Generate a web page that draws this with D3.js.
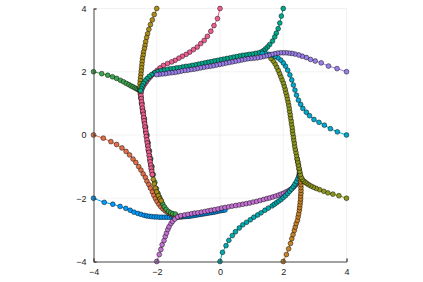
<!DOCTYPE html>
<html>
<head>
<meta charset="utf-8">
<script src="https://d3js.org/d3.v7.min.js"></script>
<style>
  body { margin: 0; background: #fff; }
  svg { display: block; }
</style>
</head>
<body>
<svg></svg>
<script>
const svgWidth = 423;
const svgHeight = 282;

// trajectories, one array of [x, y] per series
const blue = [[-4.00,-2.00],[-3.66,-2.13],[-3.39,-2.19],[-3.16,-2.26],[-2.98,-2.32],[-2.84,-2.38],[-2.72,-2.44],[-2.60,-2.48],[-2.50,-2.51],[-2.40,-2.54],[-2.32,-2.56],[-2.24,-2.57],[-2.16,-2.58],[-2.08,-2.59],[-2.00,-2.59],[-1.92,-2.60],[-1.84,-2.60],[-1.76,-2.60],[-1.68,-2.60],[-1.60,-2.60],[-1.52,-2.60],[-1.46,-2.60],[-1.40,-2.60],[-1.34,-2.60],[-1.28,-2.59],[-1.22,-2.59],[-1.16,-2.58],[-1.10,-2.58],[-1.04,-2.57],[-0.98,-2.57],[-0.92,-2.56],[-0.86,-2.55],[-0.80,-2.54],[-0.74,-2.53],[-0.68,-2.52],[-0.62,-2.51],[-0.56,-2.50],[-0.50,-2.49],[-0.44,-2.48],[-0.38,-2.47],[-0.32,-2.46],[-0.26,-2.45],[-0.20,-2.44],[-0.14,-2.43],[-0.08,-2.41],[-0.02,-2.40],[0.04,-2.39],[0.10,-2.38],[0.16,-2.37]];
const orange = [[-4.00,0.00],[-3.69,-0.10],[-3.45,-0.21],[-3.27,-0.30],[-3.10,-0.41],[-2.97,-0.52],[-2.86,-0.63],[-2.75,-0.76],[-2.66,-0.87],[-2.57,-1.00],[-2.50,-1.11],[-2.43,-1.23],[-2.36,-1.34],[-2.31,-1.46],[-2.25,-1.57],[-2.20,-1.68],[-2.14,-1.80],[-2.09,-1.91],[-2.04,-2.01],[-1.99,-2.10],[-1.93,-2.19],[-1.87,-2.27],[-1.80,-2.34],[-1.73,-2.40],[-1.65,-2.45],[-1.57,-2.49],[-1.50,-2.52],[-1.42,-2.55],[-1.34,-2.57],[-1.25,-2.58]];
const green = [[-4.00,2.00],[-3.74,1.94],[-3.55,1.89],[-3.40,1.84],[-3.27,1.79],[-3.15,1.73],[-3.05,1.68],[-2.96,1.63],[-2.88,1.59],[-2.81,1.55],[-2.75,1.52],[-2.69,1.49],[-2.64,1.46],[-2.59,1.44],[-2.55,1.42],[-2.52,1.36],[-2.50,1.20],[-2.47,1.00],[-2.43,0.75],[-2.39,0.50],[-2.35,0.25],[-2.31,0.00],[-2.27,-0.25],[-2.23,-0.50],[-2.19,-0.75],[-2.15,-1.00],[-2.11,-1.25],[-2.06,-1.50],[-2.01,-1.70],[-1.96,-1.85],[-1.91,-1.97],[-1.86,-2.08],[-1.81,-2.18],[-1.76,-2.27],[-1.70,-2.35],[-1.63,-2.42],[-1.56,-2.46],[-1.49,-2.49],[-1.41,-2.50]];
const purple = [[-2.00,-4.00],[-1.92,-3.78],[-1.87,-3.62],[-1.83,-3.47],[-1.77,-3.34],[-1.73,-3.21],[-1.69,-3.10],[-1.65,-2.99],[-1.61,-2.90],[-1.55,-2.80],[-1.50,-2.73],[-1.43,-2.66],[-1.34,-2.59],[-1.24,-2.55],[-1.12,-2.53],[-1.01,-2.51],[-0.90,-2.49],[-0.80,-2.47],[-0.70,-2.46],[-0.59,-2.44],[-0.48,-2.42],[-0.38,-2.40],[-0.28,-2.38],[-0.17,-2.36],[-0.06,-2.34],[0.05,-2.31],[0.16,-2.29],[0.27,-2.27],[0.38,-2.25],[0.50,-2.23],[0.61,-2.21],[0.72,-2.19],[0.83,-2.17],[0.94,-2.15],[1.05,-2.12],[1.16,-2.10],[1.27,-2.07],[1.38,-2.04],[1.48,-2.01],[1.57,-1.99],[1.67,-1.96],[1.76,-1.93],[1.85,-1.90],[1.93,-1.87],[2.01,-1.84],[2.09,-1.80],[2.16,-1.77],[2.22,-1.73],[2.28,-1.69],[2.33,-1.64],[2.38,-1.59],[2.42,-1.54],[2.45,-1.50]];
const gold = [[-2.00,4.00],[-2.08,3.81],[-2.14,3.64],[-2.20,3.49],[-2.25,3.34],[-2.29,3.20],[-2.32,3.08],[-2.35,2.95],[-2.37,2.83],[-2.39,2.73],[-2.42,2.62],[-2.43,2.52],[-2.45,2.42],[-2.46,2.32],[-2.47,2.22],[-2.48,2.12],[-2.49,2.02],[-2.50,1.92],[-2.51,1.82],[-2.52,1.72],[-2.53,1.62],[-2.53,1.52],[-2.53,1.42],[-2.52,1.30],[-2.50,1.15],[-2.48,1.00],[-2.46,0.85],[-2.44,0.70],[-2.41,0.55],[-2.39,0.40],[-2.37,0.25],[-2.35,0.10],[-2.32,-0.05],[-2.30,-0.20],[-2.28,-0.35],[-2.26,-0.50],[-2.23,-0.65],[-2.21,-0.80],[-2.19,-0.95],[-2.16,-1.10],[-2.14,-1.25],[-2.11,-1.40],[-2.08,-1.55],[-2.04,-1.68],[-2.00,-1.80],[-1.95,-1.92],[-1.90,-2.02],[-1.86,-2.08]];
const teal = [[0.00,-4.00],[0.08,-3.71],[0.19,-3.50],[0.28,-3.33],[0.39,-3.18],[0.49,-3.06],[0.61,-2.94],[0.72,-2.84],[0.84,-2.76],[0.96,-2.68],[1.07,-2.60],[1.19,-2.53],[1.30,-2.46],[1.42,-2.38],[1.53,-2.31],[1.65,-2.24],[1.72,-2.19],[1.79,-2.14],[1.86,-2.09],[1.93,-2.04],[2.00,-1.98],[2.07,-1.92],[2.14,-1.85],[2.20,-1.78],[2.26,-1.71],[2.32,-1.63],[2.37,-1.55],[2.42,-1.47],[2.46,-1.38],[2.49,-1.29],[2.51,-1.20]];
const pink = [[0.00,4.00],[-0.08,3.68],[-0.19,3.46],[-0.29,3.28],[-0.40,3.12],[-0.50,2.99],[-0.61,2.89],[-0.72,2.78],[-0.84,2.70],[-0.96,2.62],[-1.07,2.55],[-1.19,2.49],[-1.30,2.43],[-1.42,2.36],[-1.53,2.31],[-1.66,2.26],[-1.79,2.20],[-1.90,2.12],[-1.99,2.04],[-2.07,1.97],[-2.14,1.90],[-2.21,1.83],[-2.27,1.76],[-2.33,1.68],[-2.38,1.61],[-2.43,1.53],[-2.47,1.45],[-2.49,1.35],[-2.50,1.25],[-2.49,1.15],[-2.48,1.05],[-2.47,0.95],[-2.45,0.85],[-2.44,0.75],[-2.42,0.65],[-2.41,0.55],[-2.40,0.45],[-2.38,0.35],[-2.37,0.25],[-2.35,0.15],[-2.34,0.05],[-2.33,-0.05],[-2.31,-0.15],[-2.30,-0.25],[-2.28,-0.35],[-2.27,-0.45],[-2.25,-0.55],[-2.24,-0.65],[-2.22,-0.75],[-2.21,-0.85],[-2.19,-0.95],[-2.18,-1.05],[-2.16,-1.15],[-2.14,-1.25]];
const brown = [[2.00,-4.00],[2.10,-3.78],[2.17,-3.60],[2.23,-3.43],[2.27,-3.28],[2.31,-3.15],[2.35,-3.02],[2.38,-2.91],[2.41,-2.80],[2.45,-2.70],[2.47,-2.59],[2.49,-2.49],[2.51,-2.38],[2.52,-2.29],[2.53,-2.20],[2.54,-2.11],[2.55,-2.02],[2.55,-1.93],[2.56,-1.84],[2.56,-1.75],[2.56,-1.66],[2.56,-1.57],[2.55,-1.48],[2.54,-1.39],[2.53,-1.30],[2.52,-1.20],[2.50,-1.08],[2.48,-0.96],[2.46,-0.86],[2.44,-0.76]];
const seaGreen = [[2.00,4.00],[1.94,3.76],[1.89,3.54],[1.84,3.36],[1.78,3.22],[1.73,3.10],[1.66,2.97],[1.57,2.86],[1.50,2.78],[1.44,2.72],[1.38,2.67],[1.31,2.63],[1.22,2.60],[1.12,2.58],[1.02,2.56],[0.92,2.55],[0.82,2.53],[0.72,2.52],[0.62,2.50],[0.52,2.48],[0.42,2.46],[0.32,2.44],[0.22,2.42],[0.12,2.40],[0.02,2.38],[-0.08,2.36],[-0.18,2.34],[-0.28,2.32],[-0.38,2.30],[-0.48,2.28],[-0.58,2.26],[-0.68,2.24],[-0.78,2.22],[-0.88,2.20],[-0.98,2.18],[-1.08,2.17],[-1.18,2.15],[-1.28,2.13],[-1.38,2.12],[-1.48,2.10],[-1.58,2.09],[-1.68,2.07],[-1.78,2.05],[-1.88,2.03],[-1.98,2.00],[-2.07,1.96],[-2.16,1.91],[-2.24,1.85],[-2.31,1.78],[-2.37,1.71],[-2.42,1.63],[-2.46,1.55],[-2.49,1.47],[-2.51,1.40]];
const olive = [[4.00,-2.00],[3.76,-1.92],[3.57,-1.87],[3.41,-1.83],[3.28,-1.78],[3.15,-1.73],[3.04,-1.69],[2.95,-1.65],[2.87,-1.61],[2.80,-1.57],[2.74,-1.53],[2.69,-1.49],[2.64,-1.45],[2.60,-1.40],[2.57,-1.34],[2.54,-1.25],[2.52,-1.15],[2.50,-1.05],[2.48,-0.95],[2.46,-0.85],[2.44,-0.75],[2.42,-0.65],[2.40,-0.55],[2.38,-0.45],[2.36,-0.35],[2.35,-0.25],[2.33,-0.15],[2.32,-0.05],[2.30,0.05],[2.29,0.15],[2.28,0.25],[2.26,0.35],[2.25,0.45],[2.23,0.55],[2.22,0.65],[2.20,0.75],[2.19,0.85],[2.17,0.95],[2.15,1.05],[2.13,1.15],[2.11,1.25],[2.08,1.35],[2.06,1.45],[2.03,1.55],[2.00,1.65],[1.96,1.75],[1.92,1.85],[1.88,1.95],[1.84,2.05],[1.79,2.15],[1.74,2.25],[1.68,2.34],[1.61,2.42]];
const cyan = [[4.00,0.00],[3.71,0.10],[3.49,0.20],[3.30,0.31],[3.13,0.40],[2.97,0.49],[2.83,0.61],[2.73,0.72],[2.62,0.84],[2.55,0.97],[2.48,1.10],[2.42,1.26],[2.37,1.42],[2.32,1.58],[2.27,1.74],[2.21,1.90],[2.14,2.05],[2.07,2.18],[2.00,2.28],[1.92,2.37],[1.83,2.44],[1.74,2.49],[1.64,2.53],[1.54,2.55],[1.44,2.57],[1.34,2.58]];
const lavender = [[4.00,2.00],[3.70,2.10],[3.43,2.18],[3.20,2.28],[3.01,2.34],[2.86,2.39],[2.73,2.45],[2.60,2.49],[2.49,2.53],[2.37,2.56],[2.27,2.58],[2.18,2.59],[2.09,2.60],[2.00,2.60],[1.91,2.60],[1.82,2.59],[1.73,2.57],[1.64,2.55],[1.55,2.52],[1.46,2.50],[1.37,2.48],[1.28,2.46],[1.18,2.44],[1.08,2.43],[0.98,2.42],[0.88,2.41],[0.78,2.39],[0.68,2.37],[0.58,2.35],[0.48,2.33],[0.38,2.31],[0.28,2.29],[0.18,2.27],[0.08,2.25],[-0.02,2.23],[-0.12,2.21],[-0.22,2.19],[-0.32,2.17],[-0.42,2.16],[-0.52,2.14],[-0.62,2.12],[-0.72,2.10],[-0.82,2.08],[-0.92,2.07],[-1.02,2.05],[-1.12,2.04],[-1.22,2.02],[-1.32,2.00],[-1.42,1.98],[-1.52,1.97],[-1.62,1.96],[-1.72,1.94],[-1.82,1.93],[-1.92,1.92],[-2.00,1.91]];

const seriesList = [blue, orange, green, purple, gold, teal, pink, brown, seaGreen, olive, cyan, lavender];
const colors = ["#009AFA", "#E36F47", "#3EA44E", "#C371D2", "#AC8E18", "#00AAAE",
                "#ED5E93", "#C68225", "#00A98D", "#8E971D", "#00A9CD", "#9B7FE9"];
const tickValues = [-4, -2, 0, 2, 4];

const svg = d3.select("svg")
  .attr("width", svgWidth)
  .attr("height", svgHeight);

svg.append("rect")
  .attr("width", svgWidth)
  .attr("height", svgHeight)
  .attr("fill", "#fff");

const x = d3.scaleLinear().domain([-4, 4]).range([93.5, 346.5]);
const y = d3.scaleLinear().domain([-4, 4]).range([261.5, 8.5]);

// grid
svg.append("g")
  .selectAll("line")
  .data(tickValues.slice(1))
  .join("line")
  .attr("x1", (d) => x(d)).attr("x2", (d) => x(d))
  .attr("y1", y(-4)).attr("y2", y(4))
  .attr("stroke", "#000").attr("stroke-opacity", 0.1).attr("stroke-width", 0.5);

svg.append("g")
  .selectAll("line")
  .data(tickValues.slice(1))
  .join("line")
  .attr("y1", (d) => y(d)).attr("y2", (d) => y(d))
  .attr("x1", x(-4)).attr("x2", x(4))
  .attr("stroke", "#000").attr("stroke-opacity", 0.1).attr("stroke-width", 0.5);

// series: line first, then markers on top
const line = d3.line().x((d) => x(d[0])).y((d) => y(d[1]));
const plot = svg.append("g");

seriesList.forEach((pts, i) => {
  const g = plot.append("g");
  g.append("path")
    .attr("d", line(pts))
    .attr("fill", "none")
    .attr("stroke", colors[i])
    .attr("stroke-width", 1);
  g.selectAll("circle")
    .data(pts)
    .join("circle")
    .attr("cx", (d) => x(d[0]))
    .attr("cy", (d) => y(d[1]))
    .attr("r", 2.4)
    .attr("fill", colors[i])
    .attr("stroke", "#000")
    .attr("stroke-opacity", 0.8)
    .attr("stroke-width", 0.6);
});

// axes
const xAxis = d3.axisBottom(x)
  .tickValues(tickValues)
  .tickSize(-3)
  .tickPadding(7)
  .tickFormat((d) => d3.format("d")(d).replace("-", "\u2212"));

const yAxis = d3.axisLeft(y)
  .tickValues(tickValues)
  .tickSize(-3)
  .tickPadding(7)
  .tickFormat((d) => d3.format("d")(d).replace("-", "\u2212"));

const gx = svg.append("g")
  .attr("transform", `translate(0,${y(-4)})`)
  .call(xAxis);

const gy = svg.append("g")
  .attr("transform", `translate(${x(-4)},0)`)
  .call(yAxis);

[gx, gy].forEach((g) => {
  g.select(".domain").attr("stroke", "#444").attr("stroke-width", 1);
  g.selectAll(".tick line").attr("stroke", "#444").attr("stroke-width", 0.8);
  g.selectAll("text")
    .attr("fill", "#222")
    .attr("font-family", "Liberation Sans, Arial, sans-serif")
    .attr("font-size", "9px");
});
</script>
</body>
</html>
